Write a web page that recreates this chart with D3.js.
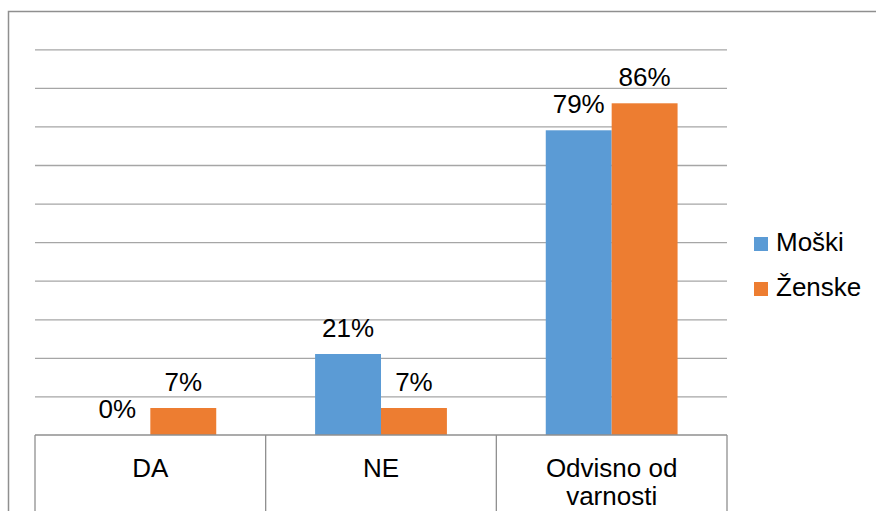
<!DOCTYPE html>
<html>
<head>
<meta charset="utf-8">
<script src="https://cdn.jsdelivr.net/npm/d3@7"></script>
<style>
  body { margin: 0; background: #fff; }
  svg { display: block; }
  text { font-family: "Liberation Sans", Arial, sans-serif; fill: #000; }
</style>
</head>
<body>
<svg width="876" height="511"></svg>
<script>
var categories = ['DA', 'NE', 'Odvisno od varnosti']
var series = ['Moški', 'Ženske']
var moski = [0, 0.21, 0.79]
var zenske = [0.07, 0.07, 0.86]
var yTicks = [0, 0.1, 0.2, 0.3, 0.4, 0.5, 0.6, 0.7, 0.8, 0.9, 1]
var colors = ['#5b9bd5', '#ed7d31']

var svg = d3.select('svg')
var plotLeft = 35, plotRight = 727, plotTop = 49.3, plotBottom = 435
var fontSize = '26px'

// outer chart frame (cut off by the picture on the right and bottom)
svg.append('rect')
    .attr('x', 8.5).attr('y', 11.5)
    .attr('width', 1000).attr('height', 1000)
    .style('fill', 'none')
    .style('stroke', '#8f8f8f')
    .style('stroke-width', 1.5)

var xScale = d3.scaleBand()
    .domain(categories)
    .range([plotLeft, plotRight])
    .padding(0)
var subScale = d3.scaleBand()
    .domain(series)
    .range([0, xScale.bandwidth()])
    .paddingInner(0)
    .paddingOuter(0.75)
var yScale = d3.scaleLinear()
    .domain([0, 1])
    .range([plotBottom, plotTop])

// gridlines
var grid = svg.append('g')
    .attr('transform', 'translate(' + plotLeft + ',0)')
    .call(d3.axisLeft(yScale).tickValues(yTicks.slice(1)).tickSize(-(plotRight - plotLeft)).tickFormat(''))
grid.select('.domain').remove()
grid.selectAll('line').style('stroke', '#a6a6a6').style('stroke-width', 1.3)

var data = []
categories.forEach(function(c, i) {
    data.push({ cat: c, s: series[0], v: moski[i], color: colors[0] })
    data.push({ cat: c, s: series[1], v: zenske[i], color: colors[1] })
})

svg.append('g').selectAll('rect')
    .data(data)
    .enter()
    .append('rect')
    .attr('x', d => xScale(d.cat) + subScale(d.s))
    .attr('width', subScale.bandwidth())
    .attr('y', d => yScale(d.v))
    .attr('height', d => yScale(0) - yScale(d.v))
    .style('fill', d => d.color)

// value labels
svg.append('g').selectAll('text')
    .data(data)
    .enter()
    .append('text')
    .attr('x', d => xScale(d.cat) + subScale(d.s) + subScale.bandwidth() / 2)
    .attr('y', d => yScale(d.v) - 17)
    .attr('text-anchor', 'middle')
    .style('font-size', fontSize)
    .text(d => Math.round(d.v * 100) + '%')

// category axis with box lines
var axis = svg.append('g')
axis.append('line')
    .attr('x1', plotLeft).attr('x2', plotRight)
    .attr('y1', plotBottom).attr('y2', plotBottom)
    .style('stroke', '#8f8f8f').style('stroke-width', 1.3)
var bounds = categories.map(c => xScale(c)).concat([plotRight])
axis.selectAll('.sep')
    .data(bounds)
    .enter()
    .append('line')
    .attr('class', 'sep')
    .attr('x1', d => d).attr('x2', d => d)
    .attr('y1', plotBottom).attr('y2', 520)
    .style('stroke', '#8f8f8f').style('stroke-width', 1.3)

var catLabels = [['DA'], ['NE'], ['Odvisno od', 'varnosti']]
categories.forEach(function(c, i) {
    var t = axis.append('text')
        .attr('x', xScale(c) + xScale.bandwidth() / 2)
        .attr('y', 477)
        .attr('text-anchor', 'middle')
        .style('font-size', fontSize)
    catLabels[i].forEach(function(line, j) {
        t.append('tspan')
            .attr('x', xScale(c) + xScale.bandwidth() / 2)
            .attr('dy', j == 0 ? 0 : 28)
            .text(line)
    })
})

// legend
var legend = svg.append('g')
series.forEach(function(s, i) {
    legend.append('rect')
        .attr('x', 754).attr('y', 237 + i * 45)
        .attr('width', 14).attr('height', 14)
        .style('fill', colors[i])
    legend.append('text')
        .attr('x', 776).attr('y', 251 + i * 45)
        .style('font-size', fontSize)
        .text(s)
})
</script>
</body>
</html>
